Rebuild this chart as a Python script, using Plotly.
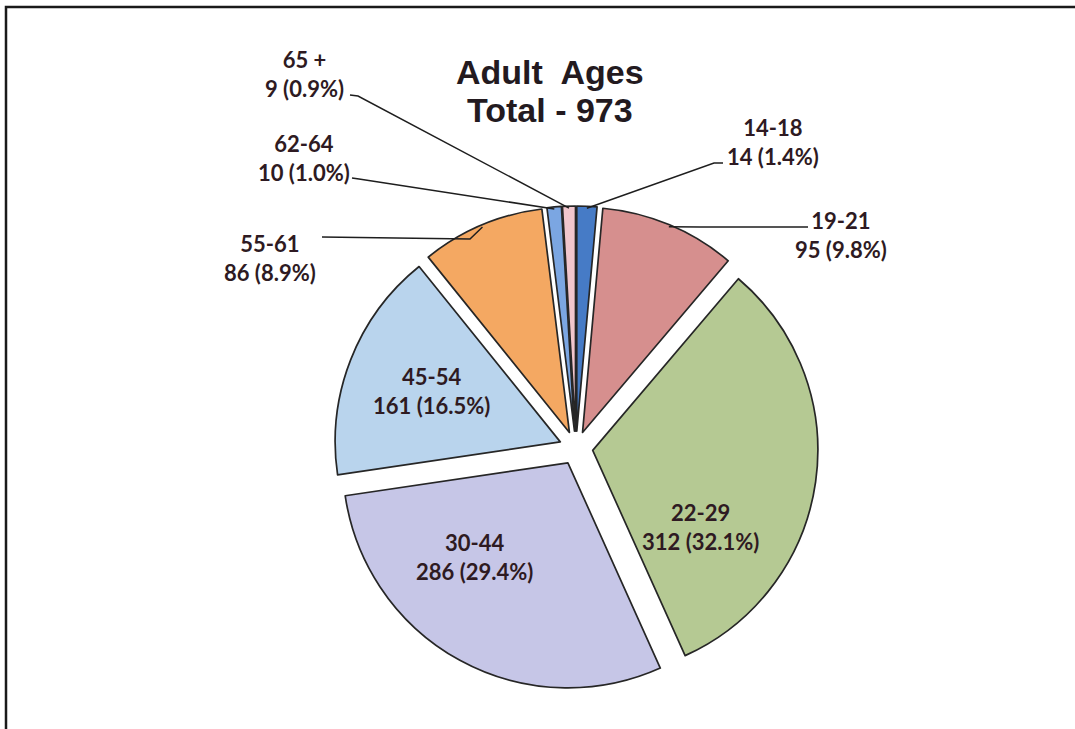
import math
import plotly.graph_objects as go

W, H = 1075, 729

# data
age_groups = ["14-18", "19-21", "22-29", "30-44", "45-54", "55-61", "62-64", "65 +"]
counts = [14, 95, 312, 286, 161, 86, 10, 9]
percents = [1.4, 9.8, 32.1, 29.4, 16.5, 8.9, 1.0, 0.9]  # as printed on the chart
slice_colors = ["#467bc6", "#d68f8e", "#b5c993", "#c6c6e7", "#b9d4ed", "#f4a862", "#7ba6e2", "#f1c6cd"]
total = sum(counts)

# pie geometry in pixels
CX, CY = 576, 448
PULL = 0.075
R_OUT = 242

LABEL_FONT = dict(family="Lato", size=22, color="#2e1a22")

# label centre for each slice, and (for outside labels) the start of the leader line
label_pos = {
    "14-18": ((773, 142), [(723, 163), (714, 163)]),
    "19-21": ((841, 235), [(808, 227), (700, 227)]),
    "22-29": ((700, 527), None),
    "30-44": ((474, 557), None),
    "45-54": ((431, 391), None),
    "55-61": ((270, 258), [(322, 237), (470, 239)]),
    "62-64": ((304, 158), [(352, 178), (359, 179)]),
    "65 +": ((304, 74), [(350, 95), (358, 96)]),
}


def to_paper(x, y):
    return x / W, 1 - y / H


fig = go.Figure()

fig.add_trace(go.Pie(
    labels=age_groups,
    values=counts,
    sort=False,
    direction="clockwise",
    rotation=0,
    pull=[PULL] * len(counts),
    marker=dict(colors=slice_colors, line=dict(color="#262626", width=1.7)),
    textinfo="none",
    showlegend=False,
    hoverinfo="label+value+percent",
    domain=dict(x=[(CX - R_OUT) / W, (CX + R_OUT) / W],
                y=[1 - (CY + R_OUT) / H, 1 - (CY - R_OUT) / H]),
))

annotations = []
shapes = []
cum = 0
for g, c, p in zip(age_groups, counts, percents):
    mid = (cum + c / 2) / total * 2 * math.pi
    cum += c
    (tx, ty), pts = label_pos[g]
    if pts:
        ex = CX + (R_OUT - 2) * math.sin(mid)
        ey = CY - (R_OUT - 2) * math.cos(mid)
        path = ""
        for i, (x, y) in enumerate(pts + [(ex, ey)]):
            px, py = to_paper(x, y)
            path += ("M" if i == 0 else " L") + f"{px:.5f},{py:.5f}"
        shapes.append(dict(type="path", path=path, xref="paper", yref="paper",
                           line=dict(color="#1e1e1e", width=1.5)))
    ax, ay = to_paper(tx, ty)
    annotations.append(dict(
        x=ax, y=ay, xref="paper", yref="paper", showarrow=False,
        text=f"<b>{g}<br>{c} ({p:.1f}%)</b>",
        font=LABEL_FONT, xanchor="center", yanchor="middle", align="center",
    ))

# chart title, one annotation per line
for line, y in [("Adult  Ages", 72), (f"Total - {total}", 110)]:
    tx, ty = to_paper(550, y)
    annotations.append(dict(
        x=tx, y=ty, xref="paper", yref="paper", showarrow=False,
        text=f"<b>{line}</b>",
        font=dict(family="Liberation Sans", size=34, color="#231a1f"),
        xanchor="center", yanchor="middle",
    ))

# scanned frame
shapes.append(dict(type="rect", xref="paper", yref="paper",
                   x0=6 / W, y0=-0.02, x1=1.02, y1=1 - 7 / H,
                   line=dict(color="#1a1a1a", width=2.5)))

fig.update_layout(
    width=W, height=H,
    margin=dict(l=0, r=0, t=0, b=0),
    paper_bgcolor="white",
    plot_bgcolor="white",
    annotations=annotations,
    shapes=shapes,
)

fig.write_html("out.html", config={"displayModeBar": False},
               post_script="document.body.style.margin = '0';")
